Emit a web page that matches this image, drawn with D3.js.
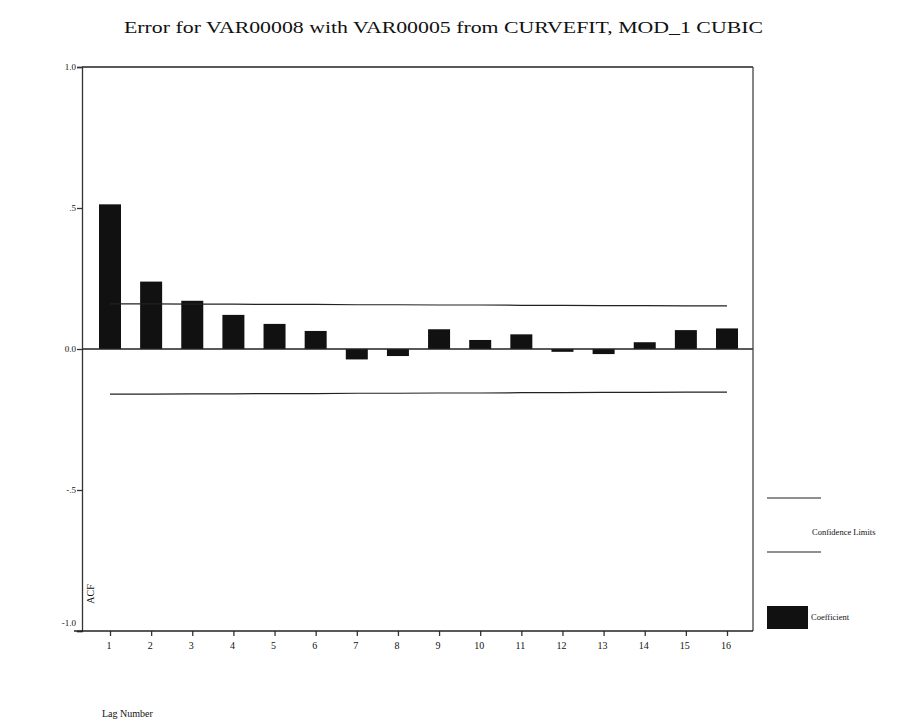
<!DOCTYPE html>
<html>
<head>
<meta charset="utf-8">
<script src="https://cdn.jsdelivr.net/npm/d3@7/dist/d3.min.js"></script>
<style>
	body { margin: 0; background: #fff; }
	text { font-family: "Liberation Serif", "Times New Roman", serif; fill: #111; }
</style>
</head>
<body>
<div id="svg-container"></div>
<script>
var width = 912;
var height = 722;

// values
var lags = [1, 2, 3, 4, 5, 6, 7, 8, 9, 10, 11, 12, 13, 14, 15, 16];
var acf = [0.513, 0.239, 0.171, 0.121, 0.089, 0.064, -0.037, -0.025, 0.070, 0.032, 0.052, -0.010, -0.018, 0.024, 0.067, 0.073];
var upperLimit = [0.160, 0.160, 0.159, 0.159, 0.158, 0.158, 0.157, 0.157, 0.156, 0.156, 0.155, 0.155, 0.154, 0.154, 0.153, 0.153];
var lowerLimit = [-0.160, -0.160, -0.159, -0.159, -0.158, -0.158, -0.157, -0.157, -0.156, -0.156, -0.155, -0.155, -0.154, -0.154, -0.153, -0.153];
var yTicks = [1.0, 0.5, 0.0, -0.5, -1.0];
var yTickLabels = ["1.0", ".5", "0.0", "-.5", "-1.0"];

// plot frame (window.top is reserved, so prefixed names)
var plotLeft = 82, plotRight = 753, plotTop = 67, plotBottom = 631;

var svg = d3.select("#svg-container").append("svg")
	.attr("width", width)
	.attr("height", height);

var x = d3.scaleLinear()
	.domain([1, 16])
	.range([110, 727]);

var y = d3.scaleLinear()
	.domain([-1, 1])
	.range([plotBottom, plotTop]);

var barWidth = 22;

svg.append("text")
	.attr("x", 124)
	.attr("y", 33)
	.attr("textLength", 639)
	.attr("lengthAdjust", "spacingAndGlyphs")
	.style("font-size", "17px")
	.text("Error for VAR00008 with VAR00005 from CURVEFIT, MOD_1 CUBIC");

// bars
svg.selectAll("rect.bar")
	.data(acf)
	.enter()
	.append("rect")
	.attr("class", "bar")
	.attr("x", function(d, i) {
		return x(lags[i]) - barWidth / 2;
	})
	.attr("y", function(d) {
		return y(Math.max(d, 0));
	})
	.attr("width", barWidth)
	.attr("height", function(d) {
		return Math.abs(y(d) - y(0));
	})
	.attr("fill", "#111");

// confidence limits
var limitLine = d3.line()
	.x(function(d, i) { return x(lags[i]); })
	.y(function(d) { return y(d); });

[upperLimit, lowerLimit].forEach(function(lim) {
	svg.append("path")
		.attr("d", limitLine(lim))
		.attr("fill", "none")
		.attr("stroke", "#222")
		.attr("stroke-width", 1.2);
});

// frame
svg.append("line")
	.attr("x1", plotLeft).attr("x2", plotRight)
	.attr("y1", y(0)).attr("y2", y(0))
	.attr("stroke", "#222").attr("stroke-width", 1.3);
svg.append("line")
	.attr("x1", plotLeft).attr("x2", plotRight)
	.attr("y1", plotTop).attr("y2", plotTop)
	.attr("stroke", "#222").attr("stroke-width", 1.3);
svg.append("line")
	.attr("x1", plotRight).attr("x2", plotRight)
	.attr("y1", plotTop).attr("y2", plotBottom)
	.attr("stroke", "#444").attr("stroke-width", 1.3);

// y axis
var yAxis = d3.axisLeft(y)
	.tickValues(yTicks)
	.tickSize(5)
	.tickFormat(function(d, i) { return yTickLabels[i]; });

var gy = svg.append("g")
	.attr("transform", "translate(" + plotLeft + ",0)")
	.call(yAxis);
gy.select(".domain").attr("stroke", "#333").attr("stroke-width", 1.3);
gy.selectAll(".tick line").attr("stroke", "#333").attr("stroke-width", 1.3);
gy.selectAll(".tick text")
	.style("font-size", "9px")
	.attr("x", -6)
	.attr("dy", function(d) { return d == -1 ? "-0.6em" : "0.32em"; });

// x axis
var xAxis = d3.axisBottom(x)
	.tickValues(lags)
	.tickSize(5)
	.tickFormat(d3.format("d"));

var gx = svg.append("g")
	.attr("transform", "translate(0," + plotBottom + ")")
	.call(xAxis);
gx.select(".domain").remove();
gx.append("line")
	.attr("x1", plotLeft - 8).attr("x2", plotRight)
	.attr("y1", 0).attr("y2", 0)
	.attr("stroke", "#222").attr("stroke-width", 1.6);
gx.selectAll(".tick line").attr("stroke", "#333").attr("stroke-width", 1.3);
gx.selectAll(".tick text")
	.style("font-size", "10px")
	.attr("y", 11)
	.attr("x", -1.5);

// axis titles
svg.append("text")
	.attr("transform", "translate(94,594) rotate(-90)")
	.attr("text-anchor", "middle")
	.style("font-size", "10px")
	.text("ACF");

svg.append("text")
	.attr("x", 102)
	.attr("y", 717)
	.style("font-size", "10px")
	.text("Lag Number");

// legend
svg.append("line")
	.attr("x1", 767).attr("x2", 821)
	.attr("y1", 498).attr("y2", 498)
	.attr("stroke", "#222").attr("stroke-width", 1.2);
svg.append("line")
	.attr("x1", 767).attr("x2", 821)
	.attr("y1", 552).attr("y2", 552)
	.attr("stroke", "#222").attr("stroke-width", 1.2);
svg.append("text")
	.attr("x", 812)
	.attr("y", 535)
	.style("font-size", "8.5px")
	.text("Confidence Limits");

svg.append("rect")
	.attr("x", 767)
	.attr("y", 606)
	.attr("width", 41)
	.attr("height", 23)
	.attr("fill", "#111");
svg.append("text")
	.attr("x", 811)
	.attr("y", 620)
	.style("font-size", "8.5px")
	.text("Coefficient");
</script>
</body>
</html>
